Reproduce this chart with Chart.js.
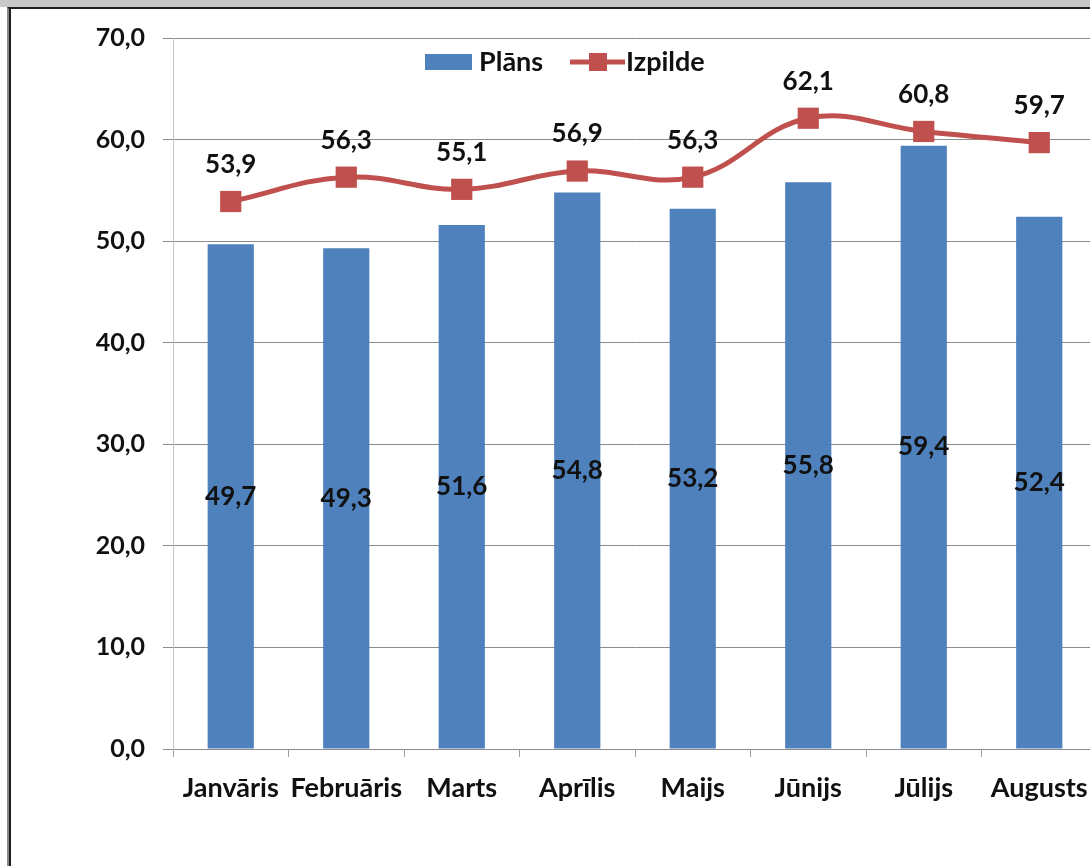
<!DOCTYPE html>
<html>
<head>
<meta charset="utf-8">
<script src="https://cdn.jsdelivr.net/npm/chart.js@4/dist/chart.umd.min.js"></script>
<style>
  html, body { margin: 0; padding: 0; background: #fff; overflow: hidden; width: 1090px; height: 866px; }
  #topbar { position: absolute; left: 0; top: 0; width: 1090px; height: 7px; background: #c8c8c8; }
  #frame { position: absolute; left: 7px; top: 7px; width: 1100px; height: 870px;
           border-top: 2px solid #1e1e1e; border-left: 2px solid #888; box-shadow: inset 2px 0 0 #1e1e1e; }
  #wrap { position: absolute; left: 12px; top: 10px; width: 1100px; height: 856px; }
</style>
</head>
<body>
<div id="topbar"></div>
<div id="frame"></div>
<div id="wrap"><canvas id="ComboChart" width="1100" height="856"></canvas></div>
<script>
// Months and values
var months = ['Janvāris', 'Februāris', 'Marts', 'Aprīlis', 'Maijs', 'Jūnijs', 'Jūlijs', 'Augusts'];
var plans = [49.7, 49.3, 51.6, 54.8, 53.2, 55.8, 59.4, 52.4];
var izpilde = [53.9, 56.3, 55.1, 56.9, 56.3, 62.1, 60.8, 59.7];
var yTicks = [0, 10, 20, 30, 40, 50, 60, 70];

var FONT = 'Lato, "Open Sans", sans-serif';
var BLUE = '#4f81bd';
var RED = '#c0504d';

function fmt(v) {
    return v.toFixed(1).replace('.', ',');
}

// Value labels: bars in the middle, points above
var valueLabels = {
    id: 'valueLabels',
    afterDatasetsDraw: function(chart) {
        var ctx = chart.ctx;
        ctx.save();
        ctx.font = 'bold 26px ' + FONT;
        ctx.fillStyle = '#111';
        ctx.textAlign = 'center';
        ctx.textBaseline = 'middle';
        chart.getDatasetMeta(0).data.forEach(function(el, i) {
            ctx.fillText(fmt(plans[i]), el.x, (el.y + el.base) / 2);
        });
        chart.getDatasetMeta(1).data.forEach(function(el, i) {
            ctx.fillText(fmt(izpilde[i]), el.x, el.y - 37);
        });
        ctx.restore();
    }
};

// Legend drawn inside the plot, like the original
var innerLegend = {
    id: 'innerLegend',
    afterDraw: function(chart) {
        var ctx = chart.ctx;
        var y = 52;
        ctx.save();
        ctx.fillStyle = BLUE;
        ctx.fillRect(413, y - 8, 47, 16);
        ctx.font = 'bold 27px ' + FONT;
        ctx.fillStyle = '#111';
        ctx.textBaseline = 'middle';
        ctx.fillText('Plāns', 467, y);
        ctx.strokeStyle = RED;
        ctx.lineWidth = 5;
        ctx.beginPath();
        ctx.moveTo(558, y);
        ctx.lineTo(613, y);
        ctx.stroke();
        ctx.fillStyle = RED;
        ctx.fillRect(577, y - 9, 18, 18);
        ctx.fillStyle = '#111';
        ctx.fillText('Izpilde', 614, y);
        ctx.restore();
    }
};

var ctx = document.getElementById('ComboChart').getContext('2d');
var ComboChart = new Chart(ctx, {
    type: 'bar',
    data: {
        labels: months,
        datasets: [
            {
                label: 'Plāns',
                data: plans,
                backgroundColor: BLUE,
                borderWidth: 0,
                barPercentage: 0.4,
                categoryPercentage: 1.0,
                order: 1
            },
            {
                type: 'line',
                label: 'Izpilde',
                data: izpilde,
                borderColor: RED,
                backgroundColor: RED,
                borderWidth: 5,
                tension: 0.4,
                pointStyle: 'rect',
                pointRadius: 15,
                pointHoverRadius: 15,
                pointBorderWidth: 0,
                order: 0
            }
        ]
    },
    options: {
        responsive: false,
        animation: false,
        devicePixelRatio: 1,
        layout: { padding: { left: 0, top: 28, right: 13, bottom: 0 } },
        scales: {
            x: {
                offset: true,
                grid: {
                    offset: true,
                    drawOnChartArea: false,
                    drawTicks: true,
                    tickLength: 8,
                    color: '#a0a0a0'
                },
                border: { color: '#8c8c8c', width: 1 },
                ticks: {
                    color: '#111',
                    padding: 15,
                    maxRotation: 0,
                    autoSkip: false,
                    font: { family: FONT, size: 27, weight: 'bold' }
                },
                afterFit: function(scale) { scale.height = 117; }
            },
            y: {
                min: 0,
                max: 70,
                afterBuildTicks: function(scale) {
                    scale.ticks = yTicks.map(function(v) { return { value: v }; });
                },
                grid: {
                    color: '#8c8c8c',
                    drawTicks: true,
                    tickLength: 10
                },
                border: { color: '#c4c4c4', width: 1 },
                ticks: {
                    color: '#111',
                    padding: 18,
                    font: { family: FONT, size: 25, weight: 'bold' },
                    callback: function(value) { return fmt(value); }
                },
                afterFit: function(scale) {
                    scale.width = 161;
                    scale.paddingTop = 12;   // let layout padding decide the plot top
                }
            }
        },
        plugins: {
            legend: { display: false },
            tooltip: { enabled: false }
        }
    },
    plugins: [valueLabels, innerLegend]
});
</script>
</body>
</html>
